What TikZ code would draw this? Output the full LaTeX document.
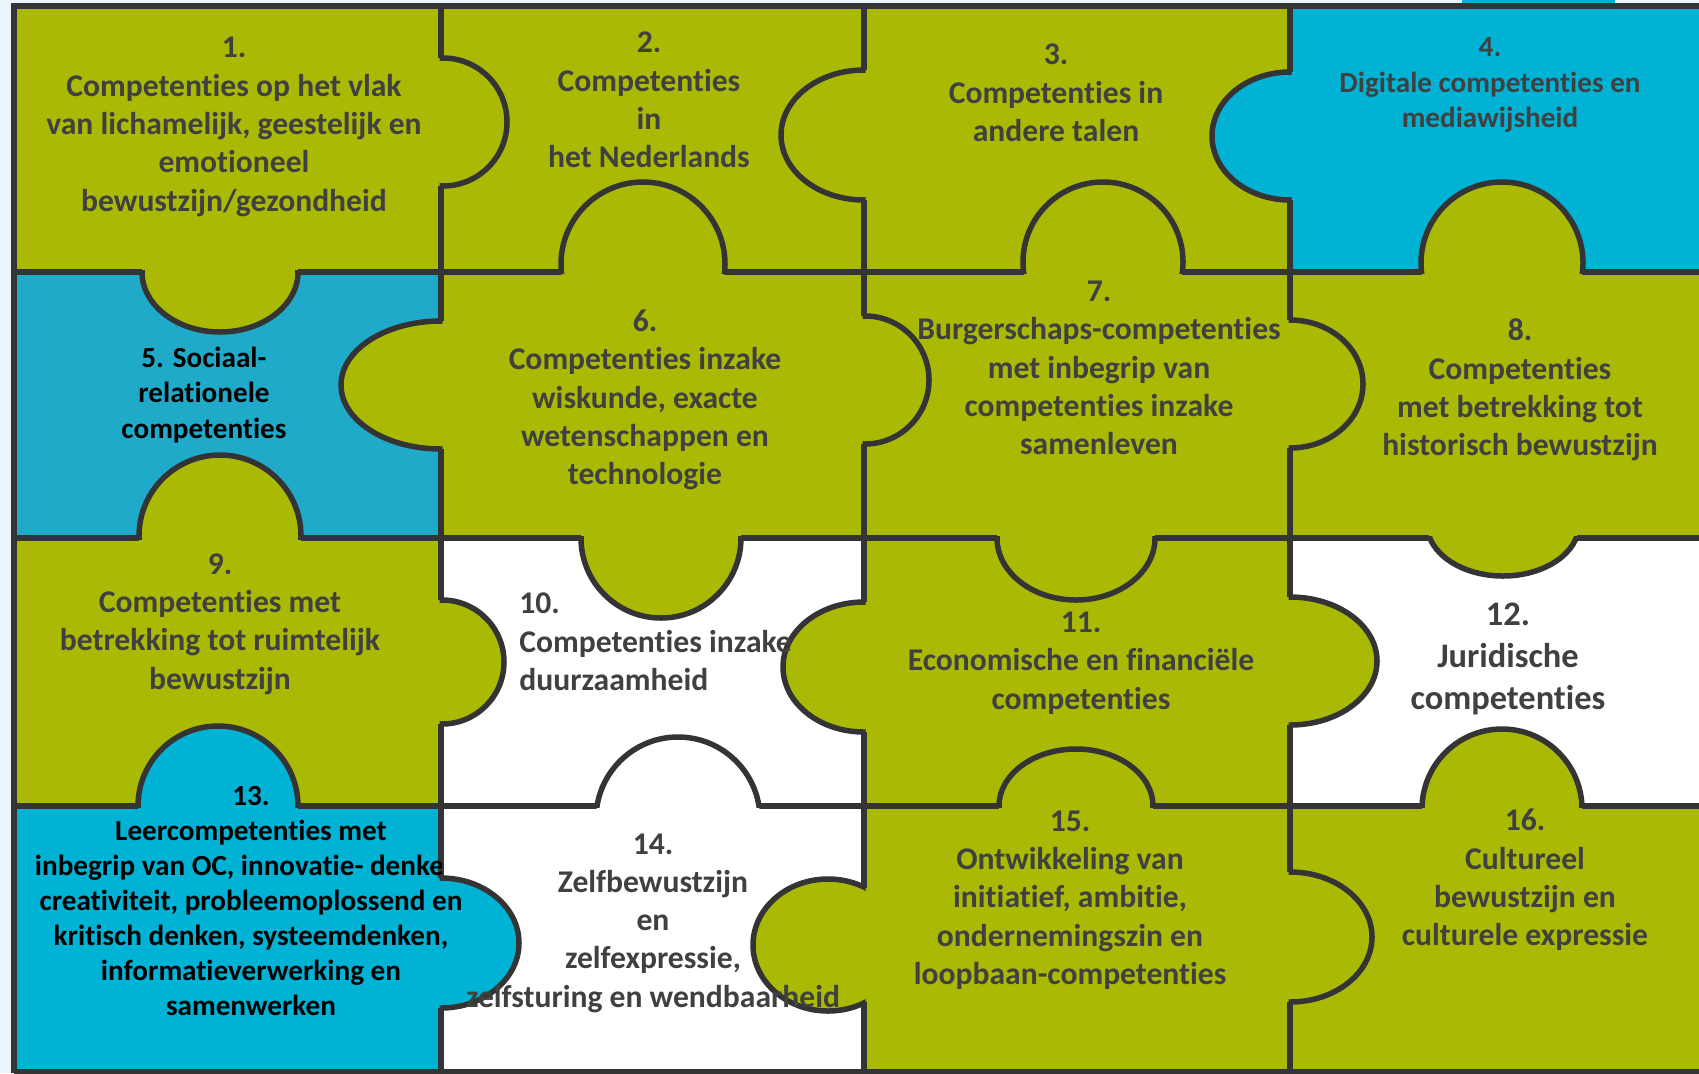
\documentclass[tikz,border=0pt]{standalone}
\usepackage{fontspec}
\setmainfont{Carlito}[Ligatures=NoCommon]

\definecolor{puzgreen}{RGB}{170,186,4}
\definecolor{puzcyan}{RGB}{0,178,212}
\definecolor{puzblue}{RGB}{32,170,202}
\definecolor{seamgray}{RGB}{52,52,52}
\definecolor{txtgray}{RGB}{64,64,64}
\definecolor{bgpale}{RGB}{234,244,251}

\tikzset{
  seam/.style={draw=seamgray, line width=0.11cm},
  lbl/.style={font=\bfseries\fontsize{18}{21.8}\selectfont, text=txtgray, align=center, inner sep=0pt},
  lblsmall/.style={lbl, font=\bfseries\fontsize{16.6}{20}\selectfont},
  lblbig/.style={lbl, font=\bfseries\fontsize{19.6}{23.7}\selectfont},
}

% #1 colour, #2 line, #3 centre along the line, #4 x radius, #5 y radius, #6 shift of the centre past the line
\newcommand{\tabdown}[6]{%
  \begin{scope}
    \clip ({#3-160},{#2-4}) rectangle ({#3+160},{#2+160});
    \fill[#1] ({#3},{#2+(#6)}) ellipse [x radius=#4, y radius=#5];
  \end{scope}
  \begin{scope}
    \clip ({#3-160},{#2-1.5}) rectangle ({#3+160},{#2+160});
    \draw[seam] ({#3},{#2+(#6)}) ellipse [x radius=#4, y radius=#5];
  \end{scope}}
\newcommand{\tabup}[6]{%
  \begin{scope}
    \clip ({#3-160},{#2+4}) rectangle ({#3+160},{#2-160});
    \fill[#1] ({#3},{#2-(#6)}) ellipse [x radius=#4, y radius=#5];
  \end{scope}
  \begin{scope}
    \clip ({#3-160},{#2+1.5}) rectangle ({#3+160},{#2-160});
    \draw[seam] ({#3},{#2-(#6)}) ellipse [x radius=#4, y radius=#5];
  \end{scope}}
\newcommand{\tabright}[6]{%
  \begin{scope}
    \clip ({#2-4},{#3-160}) rectangle ({#2+160},{#3+160});
    \fill[#1] ({#2+(#6)},{#3}) ellipse [x radius=#4, y radius=#5];
  \end{scope}
  \begin{scope}
    \clip ({#2-1.5},{#3-160}) rectangle ({#2+160},{#3+160});
    \draw[seam] ({#2+(#6)},{#3}) ellipse [x radius=#4, y radius=#5];
  \end{scope}}
\newcommand{\tableft}[6]{%
  \begin{scope}
    \clip ({#2+4},{#3-160}) rectangle ({#2-160},{#3+160});
    \fill[#1] ({#2-(#6)},{#3}) ellipse [x radius=#4, y radius=#5];
  \end{scope}
  \begin{scope}
    \clip ({#2+1.5},{#3-160}) rectangle ({#2-160},{#3+160});
    \draw[seam] ({#2-(#6)},{#3}) ellipse [x radius=#4, y radius=#5];
  \end{scope}}

\begin{document}
\begin{tikzpicture}[x=0.02cm, y=-0.02cm]
        \useasboundingbox (0,0) rectangle (1699,1073);
        \fill[bgpale] (0,0) rectangle (1699,1073);
        \fill[puzcyan] (1462,0) rectangle (1615,5);

        % pieces
        \fill[puzgreen] (14,6) rectangle (441,272);
        \fill[puzgreen] (441,6) rectangle (864,272);
        \fill[puzgreen] (864,6) rectangle (1290,272);
        \fill[puzcyan] (1290,6) rectangle (1699,272);

        \fill[puzblue] (14,272) rectangle (441,538);
        \fill[puzgreen] (441,272) rectangle (864,538);
        \fill[puzgreen] (864,272) rectangle (1290,538);
        \fill[puzgreen] (1290,272) rectangle (1699,538);

        \fill[puzgreen] (14,538) rectangle (441,806);
        \fill[white] (441,538) rectangle (864,806);
        \fill[puzgreen] (864,538) rectangle (1290,806);
        \fill[white] (1290,538) rectangle (1699,806);

        \fill[puzcyan] (14,806) rectangle (441,1073);
        \fill[white] (441,806) rectangle (864,1073);
        \fill[puzgreen] (864,806) rectangle (1290,1073);
        \fill[puzgreen] (1290,806) rectangle (1699,1073);

        % seams
        \draw[seam] (14,1073) -- (14,6) -- (1699,6);
        \draw[seam] (14,272) -- (1699,272);
        \draw[seam] (14,538) -- (1699,538);
        \draw[seam] (14,806) -- (1699,806);
        \draw[seam] (14,1072) -- (1699,1072);
        \draw[seam] (441,6) -- (441,1073);
        \draw[seam] (864,6) -- (864,1073);
        \draw[seam] (1290,6) -- (1290,1073);

        % tabs
        \tabdown{puzgreen}{272}{220}{78}{60}{0}
        \tabup{puzgreen}{272}{643}{82}{82}{8}
        \tabup{puzgreen}{272}{1103}{80}{80}{10}
        \tabup{puzgreen}{272}{1502}{81}{81}{9}

        \tabup{puzgreen}{538}{220}{81}{81}{2}
        \tabdown{puzgreen}{538}{661}{80}{80}{0}
        \tabdown{puzgreen}{538}{1076}{79}{62}{0}
        \tabdown{puzgreen}{538}{1503}{76}{52}{-14}

        \tabup{puzcyan}{806}{218}{80}{80}{0}
        \tabup{white}{806}{678}{82}{82}{-13}
        \tabup{puzgreen}{806}{1076}{77}{57}{0}
        \tabup{puzgreen}{806}{1502}{80}{80}{-3}

        \tabright{puzgreen}{441}{122}{64}{64}{2}
        \tableft{puzgreen}{441}{385}{100}{64}{0}
        \tabright{puzgreen}{441}{662}{62}{62}{1}
        \tabright{puzcyan}{441}{943}{78}{65}{0}

        \tableft{puzgreen}{864}{135}{83}{65}{0}
        \tabright{puzgreen}{864}{380}{64}{64}{1}
        \tableft{puzgreen}{864}{667}{81}{65}{0}
        \tableft{puzgreen}{864}{945}{75}{66}{36}

        \tableft{puzcyan}{1290}{136}{78}{64}{0}
        \tabright{puzgreen}{1290}{384}{73}{64}{0}
        \tabright{puzgreen}{1290}{661}{87}{64}{0}
        \tabright{puzgreen}{1290}{937}{82}{65}{0}

        % labels
        \node[lbl] (p1) at (234,127) {1.\\Competenties op het vlak\\van lichamelijk, geestelijk en\\emotioneel\\bewustzijn/gezondheid};
        \node[lbl] (p2) at (649,100) {2.\\Competenties\\in\\het Nederlands};
        \node[lbl] (p3) at (1056,93) {3.\\Competenties in\\andere talen};
        \node[lblsmall] (p4) at (1490,85) {4.\\Digitale competenties en\\mediawijsheid};
        \node[lblsmall, text=black] (p5) at (204,395) {5. Sociaal-\\relationele\\competenties};
        \node[lbl] (p6) at (645,400) {6.\\Competenties inzake\\wiskunde, exacte\\wetenschappen en\\technologie};
        \node[lbl] (p7) at (1099,368) {7.\\Burgerschaps-competenties\\met inbegrip van\\competenties inzake\\samenleven};
        \node[lbl] (p8) at (1520,390) {8.\\Competenties\\met betrekking tot\\historisch bewustzijn};
        \node[lbl] (p9) at (220,624) {9.\\Competenties met\\betrekking tot ruimtelijk\\bewustzijn};
        \node[lbl, align=left, anchor=west] (p10) at (519,642) {10.\\Competenties inzake\\duurzaamheid};
        \node[lbl] (p11) at (1081,663) {11.\\Economische en financiële\\competenties};
        \node[lblbig] (p12) at (1508,659) {12.\\Juridische\\competenties};
        \begin{scope}
          \clip (14,806) -- (138,806) arc [start angle=180, end angle=360, radius=80] -- (441,806) -- (441,878) arc [start angle=-90, end angle=90, x radius=78, y radius=65] -- (441,1073) -- (14,1073) -- cycle;
          \node[lblsmall, text=black] (p13) at (251,901) {13.\\Leercompetenties met\\inbegrip van OC, innovatie- denken,\\creativiteit, probleemoplossend en\\kritisch denken, systeemdenken,\\informatieverwerking en\\samenwerken};
        \end{scope}
        \node[lbl] (p14) at (653,923) {14.\\Zelfbewustzijn\\en\\zelfexpressie,\\zelfsturing en wendbaarheid};
        \node[lbl] (p15) at (1070,900) {15.\\Ontwikkeling van\\initiatief, ambitie,\\ondernemingszin en\\loopbaan-competenties};
        \node[lbl] (p16) at (1525,880) {16.\\Cultureel\\bewustzijn en\\culturele expressie};
\end{tikzpicture}
\end{document}
